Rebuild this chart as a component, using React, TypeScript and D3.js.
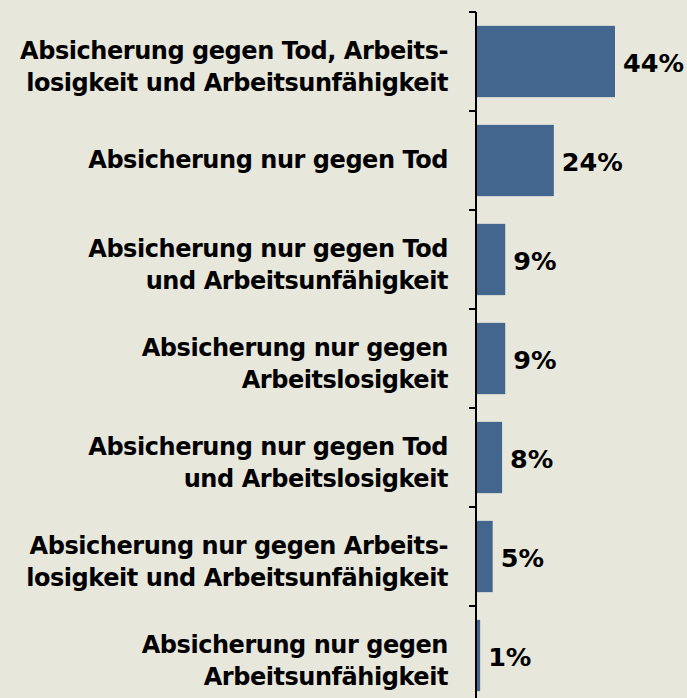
import React from 'react';
import * as d3 from 'd3';

// categories, two lines each (single line entries have one element)
const categories: string[][] = [
  ['Absicherung gegen Tod, Arbeits-', 'losigkeit und Arbeitsunfähigkeit'],
  ['Absicherung nur gegen Tod'],
  ['Absicherung nur gegen Tod', 'und Arbeitsunfähigkeit'],
  ['Absicherung nur gegen', 'Arbeitslosigkeit'],
  ['Absicherung nur gegen Tod', 'und Arbeitslosigkeit'],
  ['Absicherung nur gegen Arbeits-', 'losigkeit und Arbeitsunfähigkeit'],
  ['Absicherung nur gegen', 'Arbeitsunfähigkeit'],
];
const values = [44, 24.5, 9, 9, 8, 5, 1];
const valueLabels = ['44%', '24%', '9%', '9%', '8%', '5%', '1%'];

const W = 687;
const H = 698;
const axisX = 476;
const font = '"DejaVu Sans", Verdana, sans-serif';

export default function App() {
  const y = d3.scaleBand<number>()
    .domain(d3.range(values.length))
    .range([12, 705])
    .paddingInner(0.28)
    .paddingOuter(0.14);
  const step = y.step();
  const x = d3.scaleLinear().domain([0, 50]).range([axisX + 1, axisX + 1 + 138 * 50 / 44]);
  const tickYs = d3.range(values.length).map(i => 12 + i * step);

  return (
    <div style={{ position: 'absolute', left: 0, top: 0 }}>
      <svg width={W} height={H} style={{ display: 'block', background: '#e8e7dc' }}>
        <rect width={W} height={H} fill="#e8e7dc" />
        {values.map((v, i) => (
          <rect key={i} x={x(0)} y={y(i)} width={x(v) - x(0)} height={y.bandwidth()} fill="#43668f" />
        ))}
        <line x1={axisX} x2={axisX} y1={12} y2={H} stroke="#000" strokeWidth={2} />
        {tickYs.map((t, i) => (
          <line key={i} x1={axisX - 7} x2={axisX} y1={t} y2={t} stroke="#000" strokeWidth={2} />
        ))}
        {categories.map((lines, i) => {
          const c = (y(i) as number) + y.bandwidth() / 2;
          return (
            <text key={i} textAnchor="end" fontFamily={font} fontWeight="bold" fontSize={24}
              letterSpacing={-0.45} fill="#000">
              {lines.map((ln, j) => (
                <tspan key={j} x={448} y={lines.length === 1 ? c + 7 : c - 3 + j * 32}>{ln}</tspan>
              ))}
            </text>
          );
        })}
        {values.map((v, i) => (
          <text key={i} x={x(v) + 8} y={(y(i) as number) + y.bandwidth() / 2 + 10}
            fontFamily={font} fontWeight="bold" fontSize={25.5} fill="#000">{valueLabels[i]}</text>
        ))}
      </svg>
    </div>
  );
}
